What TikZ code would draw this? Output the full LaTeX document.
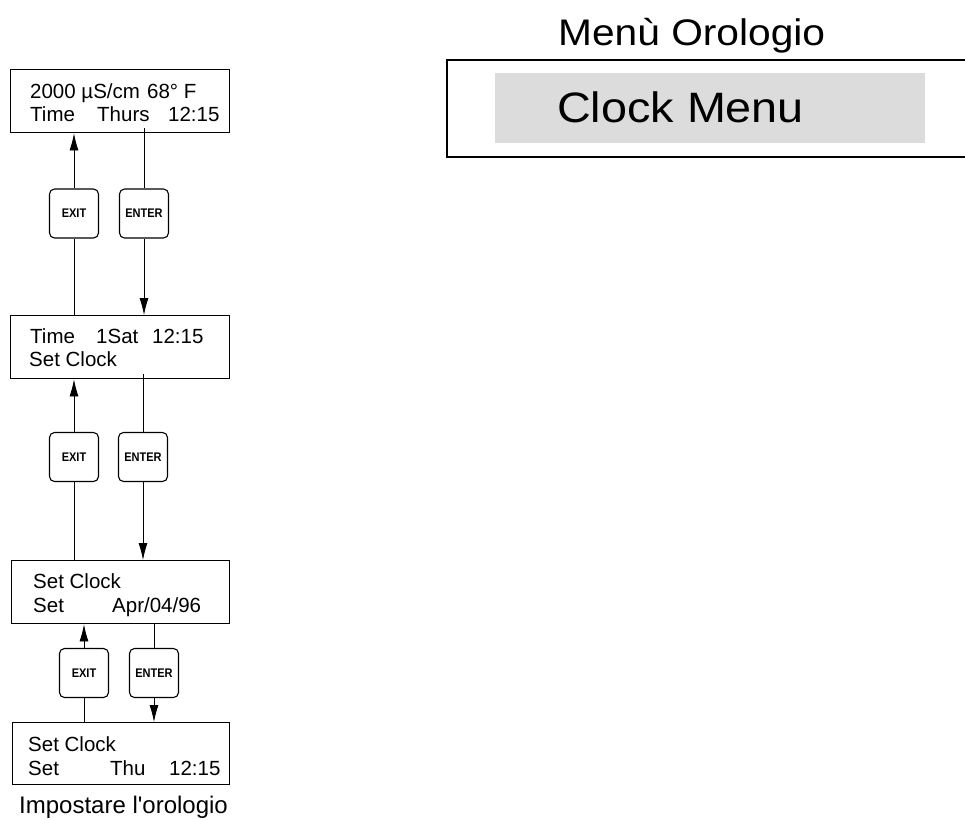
\documentclass[tikz,border=0pt]{standalone}
\usepackage{fontspec}
\setmainfont{Liberation Sans}
\newfontfamily\widefont[FakeStretch=1.1]{Liberation Sans}
\newfontfamily\keyfont[FakeStretch=0.88]{Liberation Sans}
\usetikzlibrary{arrows.meta}
\begin{document}
\begin{tikzpicture}[x=1pt,y=-1pt,
  screen/.style={draw,line width=1.4pt,rectangle,inner sep=0pt,anchor=north west},
  key/.style={draw,line width=1.1pt,rounded corners=5pt,minimum width=49pt,minimum height=49pt,inner sep=0pt,font=\keyfont\bfseries\fontsize{12.5}{13}\selectfont},
  txt/.style={anchor=base west,inner sep=0pt,font=\fontsize{20.5}{22}\selectfont},
  conn/.style={line width=0.8pt},
  arr/.style={line width=0.8pt,-{Latex[length=17pt,width=9pt]}}]
\useasboundingbox (0,0) rectangle (965,819);
% screens
\node[screen,minimum width=219pt,minimum height=63pt] (s1) at (10,69) {};
\node[screen,minimum width=219pt,minimum height=63pt] (s2) at (10,315) {};
\node[screen,minimum width=218pt,minimum height=63pt] (s3) at (11,560) {};
\node[screen,minimum width=217pt,minimum height=62pt] (s4) at (12,722) {};
% texts
\node[txt] (t1a) at (30,98) {2000 µS/cm};
\node[txt] (t1b) at (147,98) {68° F};
\node[txt] (t1c) at (30,121) {Time};
\node[txt] (t1d) at (97,121) {Thurs};
\node[txt] (t1e) at (168,121) {12:15};
\node[txt] (t2a) at (30,343) {Time};
\node[txt] (t2b) at (96,343) {1Sat};
\node[txt] (t2c) at (152,343) {12:15};
\node[txt] (t2d) at (29,366) {Set Clock};
\node[txt] (t3a) at (33,588) {Set Clock};
\node[txt] (t3b) at (33,612) {Set};
\node[txt] (t3c) at (112,612) {Apr/04/96};
\node[txt] (t4a) at (28,751) {Set Clock};
\node[txt] (t4b) at (28,775) {Set};
\node[txt] (t4c) at (110,775) {Thu};
\node[txt] (t4d) at (169,775) {12:15};
\node[font=\fontsize{24}{26}\selectfont,anchor=base,inner sep=0pt] (cap) at (123.5,813) {Impostare l\textquotesingle orologio};
% keys
\node[key] (x1) at (74,213.5) {EXIT};
\node[key] (e1) at (144,213.5) {ENTER};
\node[key] (x2) at (74,457) {EXIT};
\node[key] (e2) at (143,457) {ENTER};
\node[key] (x3) at (84,673) {EXIT};
\node[key] (e3) at (154,673) {ENTER};
% connectors
\draw[arr] (x1.north) -- (x1.north |- s1.south);
\draw[conn] ([yshift=5pt]e1.north |- s1.south) -- (e1.north);
\draw[arr] (e1.south) -- (e1.south |- s2.north);
\draw[conn] (x1.south) -- (x1.south |- s2.north);
\draw[arr] (x2.north) -- (x2.north |- s2.south);
\draw[conn] ([yshift=5pt]e2.north |- s2.south) -- (e2.north);
\draw[arr] (e2.south) -- (e2.south |- s3.north);
\draw[conn] (x2.south) -- (x2.south |- s3.north);
\draw[arr] (x3.north) -- (x3.north |- s3.south);
\draw[conn] (e3.north |- s3.south) -- (e3.north);
\draw[arr] (e3.south) -- (e3.south |- s4.north);
\draw[conn] (x3.south) -- (x3.south |- s4.north);
% right panel
\node[font=\widefont\fontsize{37}{40}\selectfont,anchor=base west,inner sep=0pt] (title) at (558,45) {Menù Orologio};
\draw[line width=1.4pt] (966,60) -- (447,60) -- (447,157) -- (966,157);
\fill[fill={rgb,255:red,220;green,220;blue,220}] (495,73) rectangle (925,143);
\node[font=\widefont\fontsize{42.5}{45}\selectfont,anchor=base west,inner sep=0pt] (menu) at (557,122) {Clock Menu};
\end{tikzpicture}
\end{document}
